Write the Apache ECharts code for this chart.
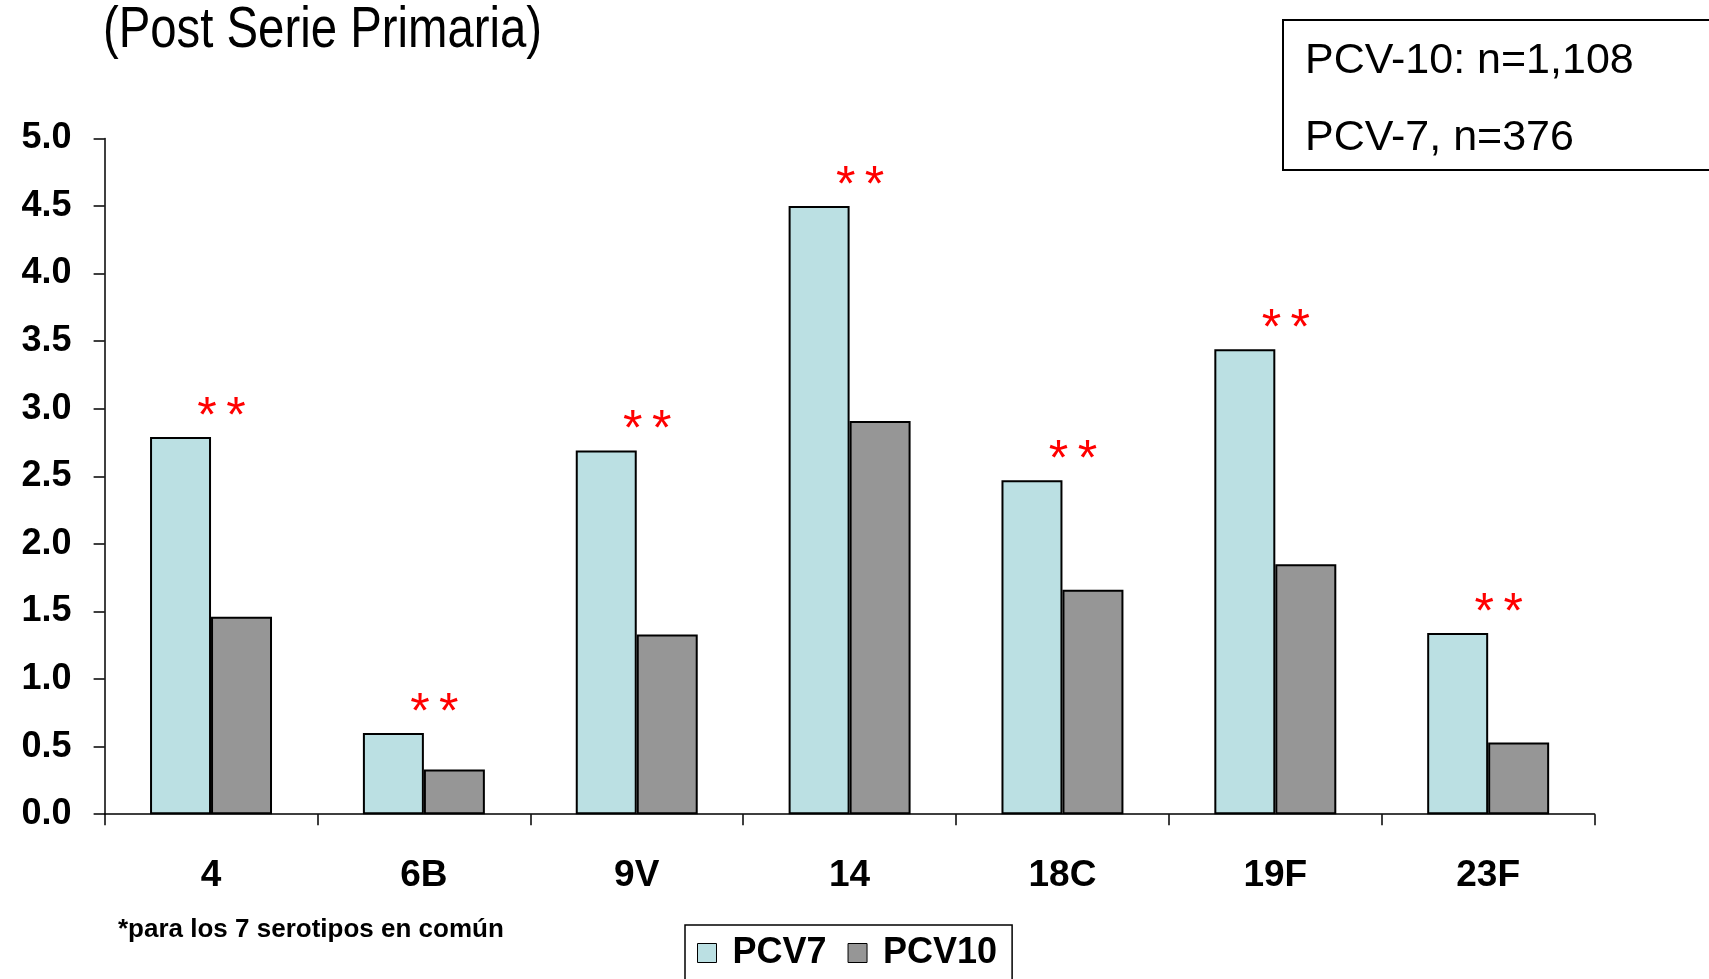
<!DOCTYPE html>
<html>
<head>
<meta charset="utf-8">
<script src="https://cdn.jsdelivr.net/npm/echarts@6/dist/echarts.min.js"></script>
<style>
  html, body { margin: 0; padding: 0; background: #fff; }
  #main { width: 1709px; height: 979px; }
</style>
</head>
<body>
<div id="main"></div>
<script>
// serotipos y valores (lectura del grafico)
var serotypes = ['4', '6B', '9V', '14', '18C', '19F', '23F'];
var pcv7 = [2.79, 0.60, 2.69, 4.50, 2.47, 3.44, 1.34];
var pcv10 = [1.46, 0.33, 1.33, 2.91, 1.66, 1.85, 0.53];
var yTicks = ['0.0', '0.5', '1.0', '1.5', '2.0', '2.5', '3.0', '3.5', '4.0', '4.5', '5.0'];

var chart = echarts.init(document.getElementById('main'));
var font = "'Liberation Sans', Arial, sans-serif";

var option = {
    animation: false,
    backgroundColor: '#fff',
    legend: {
        data: ['PCV7', 'PCV10'],
        left: 685,
        top: 925,
        orient: 'horizontal',
        borderColor: '#000',
        borderWidth: 1.5,
        padding: [10, 15, 40, 12],
        itemWidth: 19,
        itemHeight: 19,
        itemGap: 21,
        icon: 'rect',
        itemStyle: { borderColor: '#000', borderWidth: 1 },
        textStyle: { fontFamily: font, fontSize: 36, fontWeight: 'bold', color: '#000', padding: [0, 0, 0, 11] }
    },
    grid: {
        left: 104.6,
        right: 114.4,
        top: 138.4,
        bottom: 164.8,
        containLabel: false
    },
    xAxis: {
        type: 'category',
        data: serotypes,
        axisLine: { lineStyle: { color: '#000', width: 1.5 } },
        axisTick: { show: true, length: 11, lineStyle: { color: '#000', width: 1.5 } },
        axisLabel: { margin: 43, fontFamily: font, fontSize: 37, fontWeight: 'bold', color: '#000' }
    },
    yAxis: {
        type: 'value',
        min: 0,
        max: 5,
        interval: 0.5,
        splitLine: { show: false },
        axisLine: { show: true, lineStyle: { color: '#000', width: 1.5 } },
        axisTick: { show: true, length: 11, lineStyle: { color: '#000', width: 1.5 } },
        axisLabel: {
            margin: 33,
            fontFamily: font,
            fontSize: 36,
            fontWeight: 'bold',
            color: '#000',
            formatter: function (v) { return yTicks[Math.round(v * 2)]; }
        }
    },
    series: [
        {
            name: 'PCV7',
            type: 'bar',
            data: pcv7,
            barGap: '0%',
            barCategoryGap: '42.7%',
            itemStyle: { color: '#BBE0E3', borderColor: '#000', borderWidth: 2 },
            label: {
                show: true,
                position: 'top',
                distance: 5,
                offset: [41, 11],
                formatter: '{s|*} {s|*}',
                color: '#FF0000',
                fontFamily: font,
                fontSize: 34,
                rich: {
                    s: { color: '#FF0000', fontFamily: font, fontSize: 50 }
                }
            }
        },
        {
            name: 'PCV10',
            type: 'bar',
            data: pcv10,
            itemStyle: { color: '#969696', borderColor: '#000', borderWidth: 2 }
        }
    ],
    graphic: [
        {
            type: 'text',
            x: 103,
            y: 31,
            scaleX: 0.83,
            style: { text: '(Post Serie Primaria)', font: "57px 'Liberation Sans', Arial, sans-serif", fill: '#000', textVerticalAlign: 'middle' }
        },
        {
            type: 'rect',
            shape: { x: 1283, y: 20, width: 500, height: 150 },
            style: { fill: 'none', stroke: '#000', lineWidth: 2 }
        },
        {
            type: 'text',
            x: 1305,
            y: 61,
            style: { text: 'PCV-10: n=1,108', font: "43px 'Liberation Sans', Arial, sans-serif", fill: '#000', textVerticalAlign: 'middle' }
        },
        {
            type: 'text',
            x: 1305,
            y: 138,
            style: { text: 'PCV-7, n=376', font: "43px 'Liberation Sans', Arial, sans-serif", fill: '#000', textVerticalAlign: 'middle' }
        },
        {
            type: 'text',
            x: 118,
            y: 930,
            style: { text: '*para los 7 serotipos en común', font: "bold 26px 'Liberation Sans', Arial, sans-serif", fill: '#000', textVerticalAlign: 'middle' }
        }
    ]
};

chart.setOption(option);
</script>
</body>
</html>
